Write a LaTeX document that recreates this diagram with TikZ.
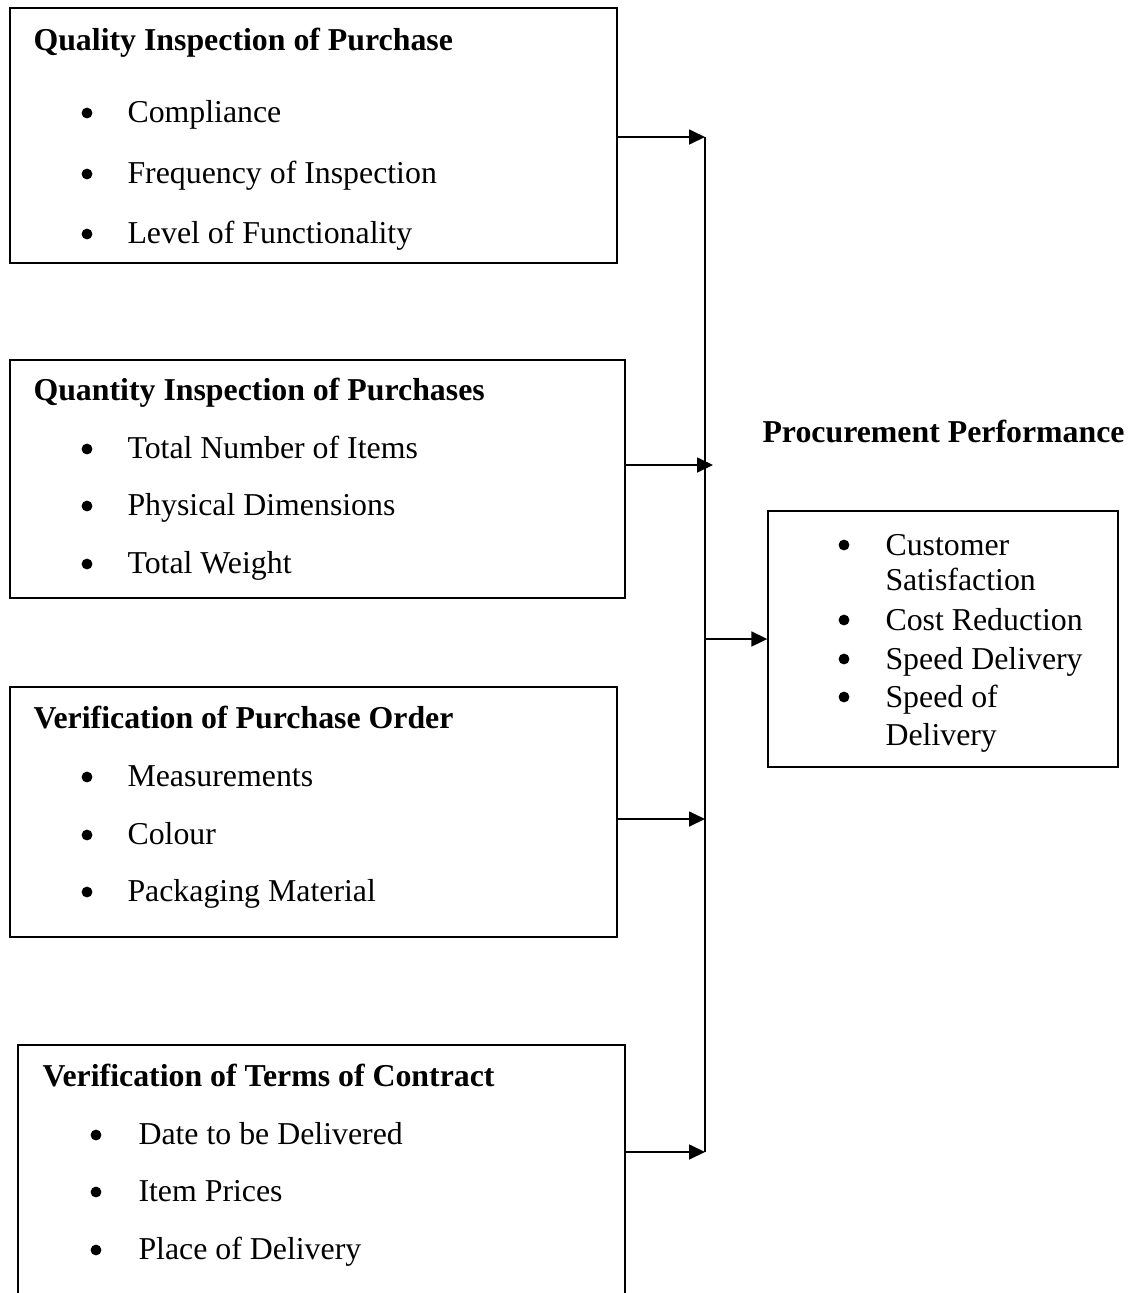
\documentclass[tikz,border=0pt,12pt]{standalone}
\usepackage{fontspec}
\setmainfont{Liberation Serif}
\usetikzlibrary{positioning, arrows.meta, fit}

\tikzset{
  frame/.style={draw, line width=0.5pt, inner sep=0pt},
  head/.style={font=\bfseries, anchor=base west, inner sep=0pt},
  item/.style={anchor=base west, inner sep=0pt},
  dot/.style={circle, fill, inner sep=0pt, minimum size=4.1pt},
  link/.style={-{Triangle[length=6pt, width=5.6pt]}, line width=0.75pt},
}

\begin{document}
\begin{tikzpicture}[x=0.377pt, y=-0.377pt]
        \clip (0,0) rectangle (1139,1293);
        % the four input boxes
        \node[frame, fit={(10,8) (617,263)}] (qual) {};
        \node[frame, fit={(10,360) (625,598)}] (quan) {};
        \node[frame, fit={(10,687) (617,937)}] (order) {};
        \node[frame, fit={(18,1045) (625,1310)}] (terms) {};
        \node[frame, fit={(768,511) (1118,767)}] (perf) {};

        \node[head] (qualhead) at (33,50) {Quality Inspection of Purchase};
        \node[dot] (qb1) at (87,113) {};
        \node[item] (qi1) at (127,122) {Compliance};
        \node[dot] (qb2) at (87,174) {};
        \node[item] (qi2) at (127,183) {Frequency of Inspection};
        \node[dot] (qb3) at (87,234) {};
        \node[item] (qi3) at (127,243) {Level of Functionality};

        \node[head] (quanhead) at (33,400) {Quantity Inspection of Purchases};
        \node[dot] (nb1) at (87,449) {};
        \node[item] (ni1) at (127,458) {Total Number of Items};
        \node[dot] (nb2) at (87,506) {};
        \node[item] (ni2) at (127,515) {Physical Dimensions};
        \node[dot] (nb3) at (87,564) {};
        \node[item] (ni3) at (127,573) {Total Weight};

        \node[head] (orderhead) at (33,728) {Verification of Purchase Order};
        \node[dot] (ob1) at (87,777) {};
        \node[item] (oi1) at (127,786) {Measurements};
        \node[dot] (ob2) at (87,835) {};
        \node[item] (oi2) at (127,844) {Colour};
        \node[dot] (ob3) at (87,892) {};
        \node[item] (oi3) at (127,901) {Packaging Material};

        \node[head] (termshead) at (42,1086) {Verification of Terms of Contract};
        \node[dot] (tb1) at (96,1135) {};
        \node[item] (ti1) at (138,1144) {Date to be Delivered};
        \node[dot] (tb2) at (96,1192) {};
        \node[item] (ti2) at (138,1201) {Item Prices};
        \node[dot] (tb3) at (96,1250) {};
        \node[item] (ti3) at (138,1259) {Place of Delivery};

        % outcome side
        \node[head] (perfhead) at (762,442) {Procurement Performance};
        \node[dot] (pb1) at (844,545) {};
        \node[item] (pi1) at (885,555) {Customer};
        \node[item] (pi1b) at (885,590) {Satisfaction};
        \node[dot] (pb2) at (844,620) {};
        \node[item] (pi2) at (885,630) {Cost Reduction};
        \node[dot] (pb3) at (844,659) {};
        \node[item] (pi3) at (885,669) {Speed Delivery};
        \node[dot] (pb4) at (844,697) {};
        \node[item] (pi4) at (885,707) {Speed of};
        \node[item] (pi4b) at (885,745) {Delivery};

        % connectors
        \coordinate (j1) at (705,137);
        \coordinate (j2) at (713,465);
        \coordinate (j3) at (705,819);
        \coordinate (j4) at (705,1152);
        \coordinate (j5) at (705,639);
        \draw[line width=0.75pt] (j1) -- (j4);
        \draw[link] (qual.east |- j1) -- (j1);
        \draw[link] (quan.east |- j2) -- (j2);
        \draw[link] (order.east |- j3) -- (j3);
        \draw[link] (terms.east |- j4) -- (j4);
        \draw[link] (j5) -- (perf.west |- j5);
      \end{tikzpicture}
\end{document}
